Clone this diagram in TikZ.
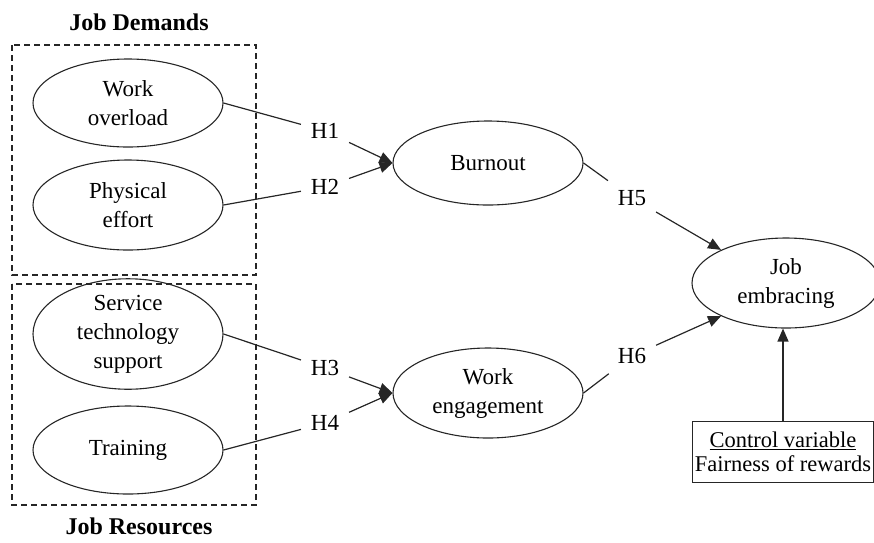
\documentclass[tikz,border=0pt]{standalone}
\usepackage{fontspec}
\setmainfont{Liberation Serif}
\usetikzlibrary{shapes.geometric,arrows.meta}
\begin{document}
\begin{tikzpicture}[x=1pt,y=-1pt,
  every node/.style={font=\fontsize{23}{29}\selectfont},
  construct/.style={draw=black!85, ellipse, line width=1.1pt, minimum width=190pt, minimum height=88pt, inner sep=0pt, align=center},
  group/.style={draw=black!85, line width=1.1pt, dash pattern=on 6pt off 4pt},
  hlabel/.style={inner sep=3pt, outer sep=7pt},
  link/.style={draw=black!85, line width=1.2pt},
  arr/.style={link, -{Triangle[length=13pt,width=11pt]}},
  title/.style={font=\fontsize{24}{29}\selectfont\bfseries, inner sep=1pt},
  ctrl/.style={draw=black!85, line width=1.1pt, align=center, minimum width=180pt, minimum height=61pt, inner sep=2pt, font=\fontsize{22.5}{24}\selectfont}]
\useasboundingbox (0,0) rectangle (874,542);

% group titles and dashed frames
\node[title] (jd) at (139,22) {Job Demands};
\node[title] (jr) at (139,526) {Job Resources};
\draw[group] (12,45) rectangle (256,275);
\draw[group] (12,284) rectangle (256,505);

% constructs
\node[construct] (wo) at (128,103) {Work\\overload};
\node[construct, minimum height=90pt] (pe) at (128,205) {Physical\\effort};
\node[construct, minimum height=93pt] (st) at (128,334) {Service\\technology\\support};
\node[construct] (tr) at (128,450) {Training};
\node[construct, minimum height=84pt] (bo) at (488,163) {Burnout};
\node[construct, minimum height=90pt] (we) at (488,393) {Work\\engagement};
\node[construct, minimum width=188pt, minimum height=90pt] (je) at (786,283) {Job\\embracing};
\node[ctrl] (cv) at (783,452) {\underline{Control variable}\\Fairness of rewards};

% hypothesis labels
\node[hlabel] (h1) at (325,131) {H1};
\node[hlabel] (h2) at (325,187) {H2};
\node[hlabel] (h3) at (325,368) {H3};
\node[hlabel] (h4) at (325,423) {H4};
\node[hlabel] (h5) at (632,198) {H5};
\node[hlabel] (h6) at (632,356) {H6};

% connectors
\draw[link] (wo.east) -- (h1);
\draw[arr] (h1) -- (bo.west);
\draw[link] (pe.east) -- (h2);
\draw[arr] (h2) -- (bo.west);
\draw[link] (st.east) -- (h3);
\draw[arr] (h3) -- (we.west);
\draw[link] (tr.east) -- (h4);
\draw[arr] (h4) -- (we.west);
\draw[link] (bo.east) -- (h5);
\draw[arr] (h5) -- (je.153);
\draw[link] (we.east) -- (h6);
\draw[arr] (h6) -- (je.207);
\draw[arr] (cv.north) -- (cv.north |- je.south);
\end{tikzpicture}
\end{document}
